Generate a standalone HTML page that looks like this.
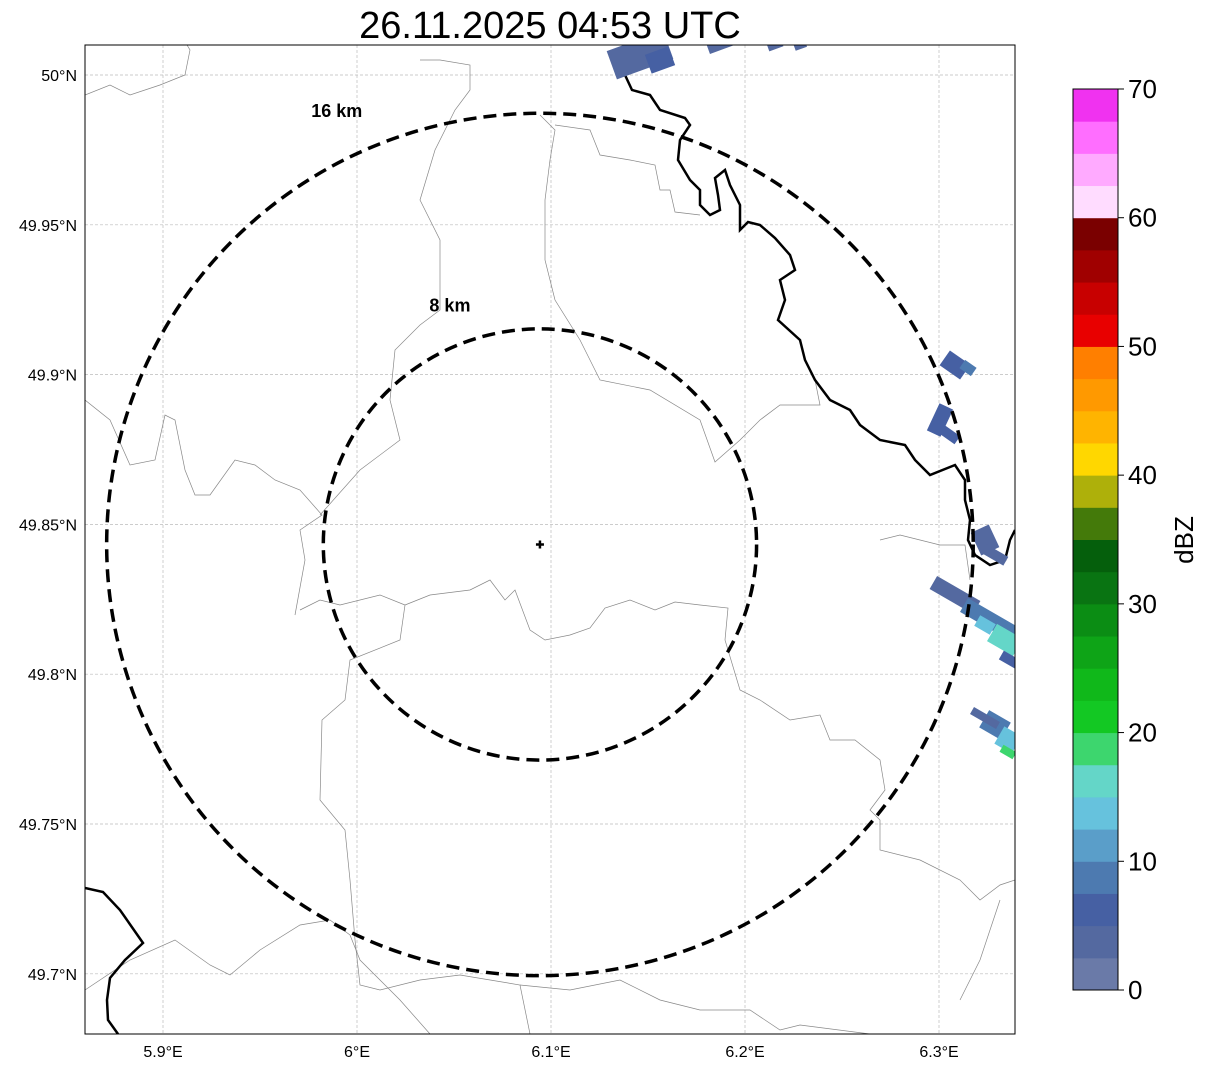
<!DOCTYPE html>
<html><head><meta charset="utf-8"><style>
body{margin:0;background:#fff;font-family:"Liberation Sans",sans-serif}
svg text{font-family:"Liberation Sans",sans-serif}
</style></head><body>
<svg id="chart" width="1207" height="1069" xmlns="http://www.w3.org/2000/svg">
<text x="550" y="38" font-size="38" text-anchor="middle">26.11.2025 04:53 UTC</text>
<defs><clipPath id="mapclip"><rect x="85" y="45" width="930" height="989"/></clipPath></defs>
<g id="grid"></g>
<g id="borders" clip-path="url(#mapclip)" fill="none"></g>
<g id="echoes" clip-path="url(#mapclip)"></g>
<g id="rings"></g>
<rect x="85" y="45" width="930" height="989" fill="none" stroke="#000" stroke-width="1"/>
<g id="axes"></g>
<g id="cbar"></g>
</svg>
<script>
const lonTicks=[5.9,6.0,6.1,6.2,6.3];
const lonLabels=["5.9°E","6°E","6.1°E","6.2°E","6.3°E"];
const latTicks=[50.0,49.95,49.9,49.85,49.8,49.75,49.7];
const latLabels=["50°N","49.95°N","49.9°N","49.85°N","49.8°N","49.75°N","49.7°N"];
const ringRadiiKm=[8,16];
const ringLabels=["8 km","16 km"];
const radarLonLat=[6.0943,49.8433];
const cbarColors=["#6a7aa8","#5469a0","#4660a3","#4d7ab0","#5a9ec9","#66c2dd","#64d6c8","#3dd66e","#13c823","#10b81a","#0ea417","#0b8d14","#097412","#055f0c","#447a0a","#aeb00a","#ffd700","#ffb400","#ff9900","#ff7f00","#e80000","#c80000","#a00000","#7a0000","#ffdcff","#ffaaff","#ff6eff","#f032f0"];
const cbarTicks=[0,10,20,30,40,50,60,70];
const ns="http://www.w3.org/2000/svg";
const xLon=l=>163+(l-5.9)*1940;
const yLat=a=>75+(50-a)*2996;
const yC=v=>990-(v/70)*901;
function mk(tag,attrs,parent){const e=document.createElementNS(ns,tag);for(const k in attrs)e.setAttribute(k,attrs[k]);parent.appendChild(e);return e;}
const grid=document.getElementById('grid'),axes=document.getElementById('axes');
lonTicks.forEach((l,i)=>{const x=xLon(l);
 const g=mk('line',{x1:x,x2:x,y1:45,y2:1034,stroke:'#bbb','stroke-width':0.7,'stroke-dasharray':'3,2'},grid);
 
 const t=mk('text',{x:x,y:1057,'font-size':16,'text-anchor':'middle'},axes);t.textContent=lonLabels[i];
 });
latTicks.forEach((a,i)=>{const y=yLat(a);
 const g=mk('line',{x1:85,x2:1015,y1:y,y2:y,stroke:'#bbb','stroke-width':0.7,'stroke-dasharray':'3,2'},grid);
 
 const t=mk('text',{x:77,y:y+6,'font-size':16,'text-anchor':'end'},axes);t.textContent=latLabels[i];
 });
const grayLines=[
"85,95 110,85 130,95 160,85 185,75 190,50 187,45",
"300,610 320,600 340,605 380,595 405,605 400,640 350,660 345,700 322,720 320,800 345,830 350,880 355,940 360,985 380,990 420,980 460,975 520,985 530,1034",
"405,605 430,595 470,590 490,580 505,600 515,590 530,630 545,640 570,635 590,628 605,608 630,600 655,610 675,602 700,605 728,608 725,640 740,690 760,700 790,720 820,715 830,740 855,740 880,760 885,790 870,810 880,820 880,850 920,860 960,880 980,900 1000,885 1015,880",
"85,400 110,420 130,465 155,460 165,415 175,420 185,470 195,495 210,495 235,460 255,465 275,480 300,490 322,515 300,530 305,560 295,615",
"85,990 130,960 175,940 210,965 230,975 260,950 300,925 330,920 350,935",
"520,985 570,990 620,980 660,1000 700,1010 750,1010 780,1030 800,1025 870,1034",
"320,515 360,470 400,440 390,400 395,350 420,325 440,310 440,270 440,240 420,200 435,150 455,110 470,90 470,65 440,60 420,60",
"540,115 555,130 550,160 545,200 545,260 555,300 580,340 600,380 650,390 700,420 715,462 740,440 760,420 780,405 820,405 815,380",
"555,125 590,130 600,155 630,160 655,165 660,190 670,190 675,212 700,215",
"880,540 900,535 940,545 965,545 970,580",
"960,1000 980,960 1000,900",
"350,935 360,960 400,1000 430,1034"
];
const blackLines=[
"625,75 632,90 650,95 660,110 685,118 690,125 680,140 678,160 690,180 700,190 700,205 710,215 720,210 718,195 715,178 725,170 730,185 740,205 740,230 748,222 760,225 775,238 790,255 795,270 780,280 785,300 778,320 800,340 805,360 815,380 830,400 850,410 860,425 880,440 905,445 915,460 930,475 955,465 965,480 965,500 970,520 968,540 975,555 990,565 1005,560 1010,540 1015,530",
"85,888 103,892 120,910 143,943 125,960 110,978 107,1000 108,1020 118,1034"];
const bg=document.getElementById('borders');
grayLines.forEach(p=>{const e=mk('polyline',{points:p,stroke:'#888','stroke-width':0.7},bg);});
blackLines.forEach(p=>{const e=mk('polyline',{points:p,stroke:'#000','stroke-width':2.5},bg);});
const echoCells=[[640,55,60,30,-20,1],[660,60,25,20,-20,2],[720,45,25,10,-20,1],[775,45,15,8,-20,1],[800,45,12,8,-20,1],
[955,365,25,18,35,2],[968,368,14,10,35,3],[940,420,15,30,25,2],[950,435,18,10,35,2],
[985,540,20,25,-25,1],[995,555,25,10,30,1],
[955,595,50,15,30,1],[990,620,60,16,30,3],[985,625,18,12,30,5],[1005,640,30,20,30,6],[1010,660,20,10,30,2],
[995,725,25,20,30,3],[985,718,30,8,30,1],[1008,740,20,20,30,5],[1008,752,15,8,30,7]];
const eg=document.getElementById('echoes');
echoCells.forEach(c=>{const e=mk('rect',{x:c[0]-c[2]/2,y:c[1]-c[3]/2,width:c[2],height:c[3],fill:cbarColors[c[5]],transform:`rotate(${c[4]} ${c[0]} ${c[1]})`},eg);
 });
const rg=document.getElementById('rings');
const cx=xLon(radarLonLat[0]),cy=yLat(radarLonLat[1]);
ringRadiiKm.forEach((r,i)=>{const rx=r*27.08,ry=r*26.95;
 const e=mk('ellipse',{cx:cx,cy:cy,rx:rx,ry:ry,fill:'none',stroke:'#000','stroke-width':3.5,'stroke-dasharray':'13,7'},rg);
 
 const lx=cx-r*(i===0?11.25:12.7), ly=cy-r*(i===0?29.9:27.1)+6;
 const t=mk('text',{x:lx,y:ly,'font-size':18,'font-weight':'bold','text-anchor':'middle'},rg);t.textContent=ringLabels[i];
 });
const m=mk('path',{d:`M${cx-4},${cy}H${cx+4}M${cx},${cy-4}V${cy+4}`,stroke:'#000','stroke-width':2.5},rg);

const cb=document.getElementById('cbar');
cbarColors.forEach((c,i)=>{const v0=i*2.5,v1=v0+2.5;
 const e=mk('rect',{x:1073,y:yC(v1),width:45,height:yC(v0)-yC(v1)+0.5,fill:c},cb);
 });
mk('rect',{x:1073,y:89,width:45,height:901,fill:'none',stroke:'#000','stroke-width':1},cb);
cbarTicks.forEach(v=>{const y=yC(v);mk('line',{x1:1118,x2:1124,y1:y,y2:y,stroke:'#000'},cb);
 const t=mk('text',{x:1128,y:y+9,'font-size':26},cb);t.textContent=v;
 });
const lt=mk('text',{x:1193,y:540,'font-size':26,'text-anchor':'middle',transform:'rotate(-90 1193 540)'},cb);lt.textContent='dBZ';

</script>
</body></html>
